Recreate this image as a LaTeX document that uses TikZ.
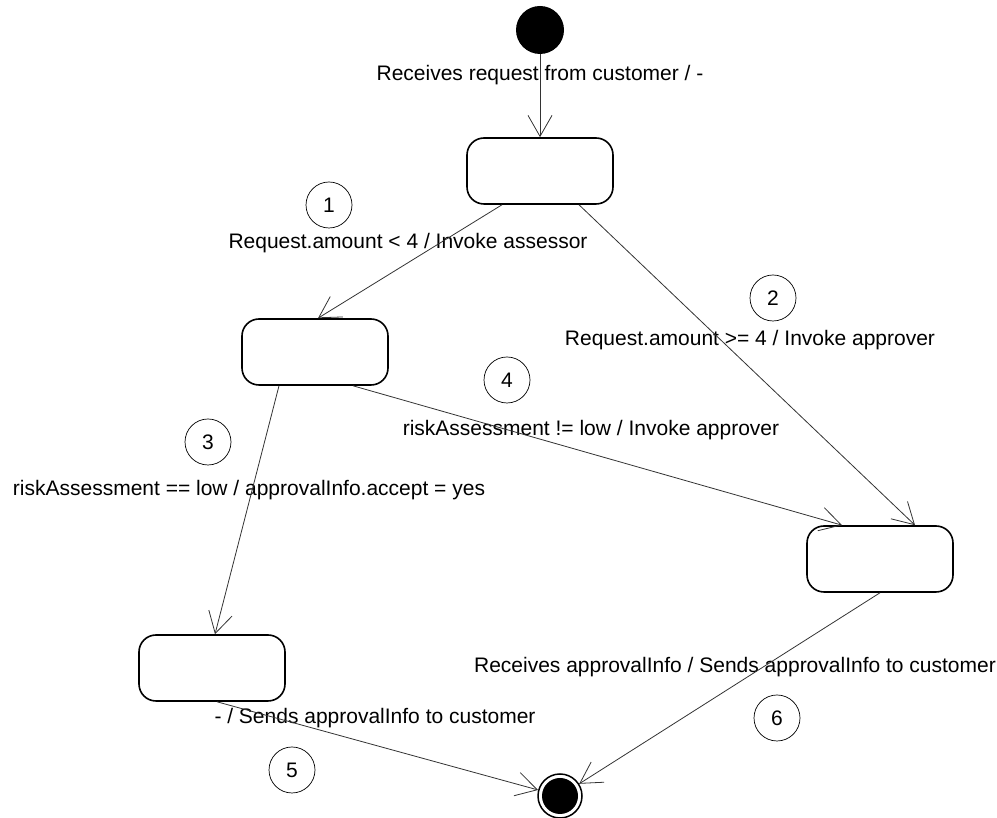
\documentclass[tikz,border=0pt]{standalone}
\usepackage{fontspec}
\setmainfont{Liberation Sans}
\usetikzlibrary{arrows.meta}
\begin{document}
\begin{tikzpicture}[x=1pt,y=1pt]
\tikzset{state/.style={draw, rounded corners=17pt, line width=1.6pt, minimum width=146pt, minimum height=66pt},
  start/.style={circle, fill=black, inner sep=0pt, minimum size=48pt},
  stop/.style={draw, circle, line width=1.5pt, inner sep=0pt, minimum size=44pt,
    path picture={\fill (path picture bounding box.center) circle (18pt);}},
  num/.style={draw, circle, line width=0.7pt, inner sep=0pt, minimum size=46pt, font=\fontsize{21}{24}\selectfont},
  lbl/.style={inner sep=0pt, font=\fontsize{21}{24}\selectfont},
  trans/.style={draw=black!80, line width=0.8pt, -{Straight Barb[length=21pt,width=24pt]}}}
\useasboundingbox (0,0) rectangle (997,818);
    \node[start] at (540,788) (init) {};
    \node[state] at (540,647) (s1) {};
    \node[state] at (315,466) (s2) {};
    \node[state] at (212,150) (s3) {};
    \node[state] at (880,259) (s4) {};
    \node[stop] at (560,22) (fin) {};

    \node[lbl] at (540,743) (l0) {Receives request from customer / -};
    \node[lbl] at (408,575) (l1) {Request.amount < 4 / Invoke assessor};
    \node[lbl] at (750,478) (l2) {Request.amount >= 4 / Invoke approver};
    \node[lbl] at (591,388) (l4) {riskAssessment != low / Invoke approver};
    \node[lbl] at (249,328) (l3) {riskAssessment == low / approvalInfo.accept = yes};
    \node[lbl] at (735,151) (l6) {Receives approvalInfo / Sends approvalInfo to customer};
    \node[lbl] at (375,100) (l5) {- / Sends approvalInfo to customer};

    \node[num] at (329,613) (n1) {1};
    \node[num] at (773,520) (n2) {2};
    \node[num] at (208,376) (n3) {3};
    \node[num] at (507,438) (n4) {4};
    \node[num] at (292,48) (n5) {5};
    \node[num] at (777,100) (n6) {6};

    \path (init) edge[trans] (s1.north);
    \path ([xshift=-38pt]s1.south) edge[trans] ([xshift=3pt]s2.north);
    \path ([xshift=39pt]s1.south) edge[trans] ([xshift=35pt]s4.north);
    \path ([xshift=38pt]s2.south) edge[trans] ([xshift=-38pt]s4.north);
    \path ([xshift=-36pt]s2.south) edge[trans] ([xshift=3pt]s3.north);
    \path ([xshift=5pt]s3.south) edge[trans] (fin);
    \path (s4.south) edge[trans] (fin);
\end{tikzpicture}
\end{document}
